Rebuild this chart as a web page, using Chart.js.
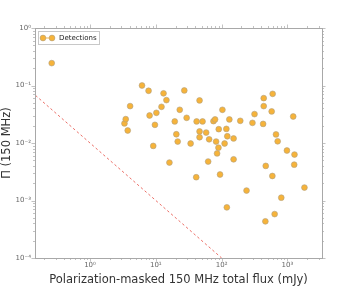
<!DOCTYPE html>
<html>
<head>
<meta charset="utf-8">
<script src="https://cdn.jsdelivr.net/npm/chart.js@4/dist/chart.umd.min.js"></script>
<style>
  html, body { margin: 0; padding: 0; background: #fff; }
  #wrap { width: 342px; height: 287px; }
</style>
</head>
<body>
<div id="wrap"><canvas id="chart" width="342" height="287"></canvas></div>
<script>
// total flux (mJy) of each detection
const fluxMJy = [
    0.262, 3.34, 3.49, 3.74, 4.07, 6.17, 7.76, 8.04, 9.14, 9.69,
    10.2, 12.2, 13.1, 14.5, 16.1, 19.4, 20.5, 21.5, 23.1, 27.1,
    29.4, 33.8, 41.1, 41.7, 46.2, 46.2, 46.2, 51.3, 58.2, 62.4,
    64.6, 75.2, 79.5, 82.4, 85.3, 89.5, 90.4, 94.6, 102.8, 111,
    118, 120, 122, 131, 152, 152, 192, 239, 294, 316,
    427, 436, 436, 462, 468, 576, 590, 596, 639, 670,
    710, 806, 982, 1224, 1267, 1280, 1813
];
// fractional polarisation at 150 MHz
const polFrac = [
    0.245, 0.0219, 0.026, 0.0165, 0.0438, 0.10, 0.081, 0.0301, 0.0089, 0.0207,
    0.0335, 0.0426, 0.073, 0.0557, 0.00457, 0.0237, 0.0142, 0.0106, 0.0378, 0.082,
    0.0274, 0.0098, 0.00254, 0.0237, 0.055, 0.0159, 0.0126, 0.0237, 0.0152, 0.00476,
    0.0116, 0.024, 0.0257, 0.0106, 0.0066, 0.0083, 0.0174, 0.00283, 0.0378, 0.0098,
    0.0176, 0.00076, 0.0131, 0.0257, 0.012, 0.0052, 0.0243, 0.00149, 0.0224, 0.0318,
    0.0215, 0.0603, 0.0438, 0.000434, 0.004, 0.0354, 0.00267, 0.0716, 0.00058, 0.0141,
    0.0107, 0.00112, 0.0074, 0.0289, 0.0042, 0.0063, 0.00168
];
// detection limit line (dashed)
const limitX = [0.1, 100];
const limitY = [0.1, 0.0001];

const xRange = [0.146, 3350];
const yRange = [0.0001, 1];
const supers = { "-": "⁻", "0": "⁰", "1": "¹", "2": "²", "3": "³", "4": "⁴" };

function powLabel(v) {
    const e = Math.log10(v);
    if (Math.abs(e - Math.round(e)) > 1e-6) return "";
    const s = String(Math.round(e)).split("").map(c => supers[c]).join("");
    return "10" + s;
}

const frameColor = "#a8a8a8";

const framePlugin = {
    id: "frame",
    afterDraw(chart) {
        const ctx = chart.ctx;
        const a = chart.chartArea;
        const xs = chart.scales.x, ys = chart.scales.y;
        ctx.save();
        ctx.strokeStyle = frameColor;
        ctx.lineWidth = 1;
        ctx.strokeRect(a.left + 0.5, a.top + 0.5, a.right - a.left, a.bottom - a.top);
        ctx.lineWidth = 0.7;
        ctx.beginPath();
        // x ticks, bottom and top
        for (let e = -1; e <= 3; e++) {
            for (let m = 1; m <= 9; m++) {
                const v = m * Math.pow(10, e);
                if (v < xRange[0] || v > xRange[1]) continue;
                const px = Math.round(xs.getPixelForValue(v)) + 0.5;
                const len = m === 1 ? 3.5 : 2;
                ctx.moveTo(px, a.bottom); ctx.lineTo(px, a.bottom + len);
                ctx.moveTo(px, a.top); ctx.lineTo(px, a.top - len);
            }
        }
        // y ticks, left and right
        for (let e = -4; e <= 0; e++) {
            for (let m = 1; m <= 9; m++) {
                const v = m * Math.pow(10, e);
                if (v < yRange[0] || v > yRange[1]) continue;
                const py = Math.round(ys.getPixelForValue(v)) + 0.5;
                const len = m === 1 ? 3.5 : 2;
                ctx.moveTo(a.left, py); ctx.lineTo(a.left - len, py);
                ctx.moveTo(a.right, py); ctx.lineTo(a.right + len, py);
            }
        }
        ctx.stroke();

        // legend box
        const lx = 38, ly = 31, lw = 61, lh = 13;
        ctx.fillStyle = "rgba(255,255,255,0.9)";
        ctx.fillRect(lx, ly, lw, lh);
        ctx.strokeStyle = "#c8c8c8";
        ctx.lineWidth = 1;
        ctx.strokeRect(lx + 0.5, ly + 0.5, lw, lh);
        const my = ly + 7;
        ctx.strokeStyle = "rgba(245,176,55,0.9)";
        ctx.beginPath();
        ctx.moveTo(40, my); ctx.lineTo(55, my);
        ctx.stroke();
        [43, 52].forEach(mx => {
            ctx.beginPath();
            ctx.arc(mx, my, 2.9, 0, Math.PI * 2);
            ctx.fillStyle = "#f6b33a";
            ctx.fill();
            ctx.strokeStyle = "#b0a080";
            ctx.lineWidth = 0.6;
            ctx.stroke();
        });
        ctx.fillStyle = "#222";
        ctx.font = "7px 'DejaVu Sans'";
        ctx.textBaseline = "middle";
        ctx.fillText("Detections", 59, my);
        ctx.restore();
    }
};

new Chart(document.getElementById("chart").getContext("2d"), {
    type: "scatter",
    data: {
        datasets: [{
            label: "Detections",
            data: fluxMJy.map((x, i) => ({ x: x, y: polFrac[i] })),
            backgroundColor: "#f6b33a",
            borderColor: "#b0a080",
            borderWidth: 0.6,
            pointRadius: 2.9,
            order: 1
        }, {
            label: "limit",
            type: "line",
            data: limitX.map((x, i) => ({ x: x, y: limitY[i] })),
            borderColor: "rgba(232,85,75,0.85)",
            borderWidth: 1,
            borderDash: [2.5, 2.5],
            pointRadius: 0,
            fill: false,
            order: 2
        }]
    },
    options: {
        responsive: false,
        animation: false,
        layout: { padding: { top: 28, right: 20, left: 0, bottom: 0 } },
        plugins: { legend: { display: false }, tooltip: { enabled: false } },
        scales: {
            x: {
                type: "logarithmic",
                min: xRange[0],
                max: xRange[1],
                grid: { display: false, drawTicks: false },
                border: { display: false },
                afterFit: s => { s.height = 29; },
                ticks: {
                    autoSkip: false,
                    maxRotation: 0,
                    padding: 3,
                    color: "#666",
                    font: { family: "DejaVu Sans", size: 7 },
                    callback: v => powLabel(v)
                },
                title: {
                    display: true,
                    text: "Polarization-masked 150 MHz total flux (mJy)",
                    color: "#333",
                    font: { family: "DejaVu Sans", size: 11.5 },
                    padding: { top: 0, bottom: 0 }
                }
            },
            y: {
                type: "logarithmic",
                min: yRange[0],
                max: yRange[1],
                grid: { display: false, drawTicks: false },
                border: { display: false },
                afterFit: s => { s.width = 35; },
                ticks: {
                    autoSkip: false,
                    padding: 4,
                    color: "#666",
                    font: { family: "DejaVu Sans", size: 7 },
                    callback: v => powLabel(v)
                },
                title: {
                    display: true,
                    text: "Π (150 MHz)",
                    color: "#333",
                    font: { family: "DejaVu Sans", size: 11.5 },
                    padding: { top: 0, bottom: 0 }
                }
            }
        }
    },
    plugins: [framePlugin]
});
</script>
</body>
</html>
